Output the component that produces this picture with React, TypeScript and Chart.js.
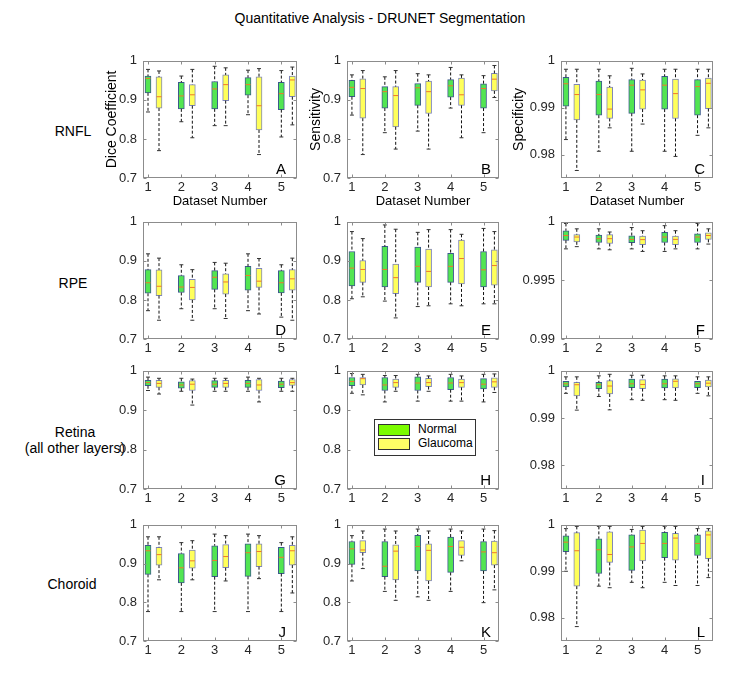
import React, { useEffect, useRef } from 'react';
import { Chart, registerables } from 'chart.js';

Chart.register(...registerables);

const FONT = "'Liberation Sans', Arial, Helvetica, sans-serif";

// ---------- categories and labels ----------
const datasetNumbers = [1, 2, 3, 4, 5];
const glaucomaOffset = 0.33;
const groupNames = ['Normal', 'Glaucoma'];
const layerNames = ['RNFL', 'RPE', 'Retina', 'Choroid'];
const metricNames = ['Dice Coefficient', 'Sensitivity', 'Specificity'];
const panelLetters = [
  ['A', 'B', 'C'],
  ['D', 'E', 'F'],
  ['G', 'H', 'I'],
  ['J', 'K', 'L'],
];
const xAxisTitle = 'Dataset Number';
const chartTitle = 'Quantitative Analysis - DRUNET Segmentation';

const ticksWide = [0.7, 0.8, 0.9, 1];
const ticksWideLabels = ['0.7', '0.8', '0.9', '1'];
const ticksSpec = [0.98, 0.99, 1];
const ticksSpecLabels = ['0.98', '0.99', '1'];
const ticksSpecRpe = [0.99, 0.995, 1];
const ticksSpecRpeLabels = ['0.99', '0.995', '1'];

// ---------- box statistics: [min, q1, median, q3, max] per dataset ----------
const rnflDiceNormal = [
  [0.869, 0.918, 0.955, 0.961, 0.978],
  [0.844, 0.877, 0.91, 0.945, 0.961],
  [0.834, 0.877, 0.928, 0.947, 0.986],
  [0.862, 0.912, 0.939, 0.957, 0.976],
  [0.805, 0.875, 0.916, 0.945, 0.975],
];
const rnflDiceGlaucoma = [
  [0.77, 0.879, 0.908, 0.959, 0.974],
  [0.803, 0.885, 0.913, 0.939, 0.978],
  [0.834, 0.898, 0.939, 0.964, 0.982],
  [0.76, 0.823, 0.885, 0.959, 0.98],
  [0.836, 0.908, 0.951, 0.961, 0.984],
];
const rnflSensNormal = [
  [0.861, 0.908, 0.932, 0.95, 0.964],
  [0.816, 0.879, 0.921, 0.934, 0.959],
  [0.82, 0.886, 0.931, 0.942, 0.967],
  [0.879, 0.907, 0.936, 0.952, 0.983],
  [0.816, 0.879, 0.929, 0.941, 0.962],
];
const rnflSensGlaucoma = [
  [0.76, 0.853, 0.929, 0.954, 0.975],
  [0.774, 0.831, 0.911, 0.934, 0.975],
  [0.774, 0.865, 0.921, 0.948, 0.964],
  [0.803, 0.886, 0.913, 0.956, 0.964],
  [0.906, 0.923, 0.953, 0.968, 0.988],
];
const rnflSpecNormal = [
  [0.9832, 0.9903, 0.9951, 0.9965, 0.9982],
  [0.9807, 0.9884, 0.9928, 0.9957, 0.9982],
  [0.9807, 0.9888, 0.9948, 0.996, 0.9984],
  [0.9807, 0.9897, 0.9948, 0.9967, 0.9982],
  [0.9841, 0.9884, 0.9945, 0.996, 0.9982],
];
const rnflSpecGlaucoma = [
  [0.9766, 0.9874, 0.9928, 0.995, 0.9982],
  [0.9857, 0.9877, 0.9897, 0.9944, 0.9968],
  [0.9865, 0.9897, 0.9938, 0.9959, 0.9972],
  [0.9796, 0.9877, 0.993, 0.9961, 0.9982],
  [0.9857, 0.9898, 0.9952, 0.9963, 0.9982],
];
const rpeDiceNormal = [
  [0.7725, 0.817, 0.844, 0.8775, 0.918],
  [0.7775, 0.819, 0.833, 0.8625, 0.89],
  [0.7775, 0.827, 0.858, 0.875, 0.896],
  [0.7725, 0.825, 0.8625, 0.886, 0.918],
  [0.756, 0.818, 0.844, 0.875, 0.89],
];
const rpeDiceGlaucoma = [
  [0.748, 0.811, 0.835, 0.877, 0.907],
  [0.748, 0.8, 0.832, 0.8525, 0.8775],
  [0.7525, 0.815, 0.846, 0.867, 0.894],
  [0.764, 0.832, 0.848, 0.881, 0.906],
  [0.748, 0.825, 0.854, 0.8775, 0.907],
];
const rpeSensNormal = [
  [0.803, 0.836, 0.8815, 0.924, 0.975],
  [0.797, 0.833, 0.878, 0.937, 0.992],
  [0.783, 0.845, 0.886, 0.935, 0.973],
  [0.79, 0.845, 0.886, 0.919, 0.98],
  [0.79, 0.833, 0.877, 0.924, 0.983],
];
const rpeSensGlaucoma = [
  [0.808, 0.845, 0.878, 0.901, 0.957],
  [0.754, 0.816, 0.857, 0.892, 0.981],
  [0.785, 0.833, 0.873, 0.93, 0.98],
  [0.785, 0.841, 0.906, 0.953, 0.968],
  [0.79, 0.838, 0.888, 0.928, 0.975],
];
const rpeSpecNormal = [
  [0.99769, 0.99842, 0.99883, 0.99924, 0.99986],
  [0.99769, 0.99823, 0.99856, 0.99886, 0.9994],
  [0.99769, 0.99821, 0.9985, 0.9988, 0.99951],
  [0.99747, 0.99823, 0.9987, 0.9991, 0.99967],
  [0.99769, 0.99823, 0.9987, 0.99897, 0.99986],
];
const rpeSpecGlaucoma = [
  [0.99788, 0.99829, 0.9987, 0.99891, 0.9994],
  [0.99761, 0.99815, 0.99856, 0.99891, 0.99913],
  [0.99747, 0.99804, 0.99848, 0.99878, 0.99924],
  [0.99769, 0.99804, 0.9985, 0.99878, 0.99924],
  [0.9981, 0.9985, 0.99883, 0.99905, 0.9994],
];
const retinaDiceNormal = [
  [0.95, 0.962, 0.97, 0.976, 0.984],
  [0.948, 0.956, 0.964, 0.972, 0.981],
  [0.948, 0.958, 0.966, 0.975, 0.981],
  [0.948, 0.958, 0.968, 0.976, 0.984],
  [0.948, 0.957, 0.966, 0.974, 0.981],
];
const retinaDiceGlaucoma = [
  [0.941, 0.958, 0.968, 0.976, 0.981],
  [0.913, 0.95, 0.966, 0.975, 0.979],
  [0.948, 0.958, 0.968, 0.976, 0.981],
  [0.921, 0.95, 0.964, 0.978, 0.981],
  [0.948, 0.963, 0.97, 0.978, 0.981],
];
const retinaSensNormal = [
  [0.943, 0.962, 0.973, 0.983, 0.993],
  [0.921, 0.95, 0.964, 0.983, 0.988],
  [0.923, 0.95, 0.969, 0.985, 0.991],
  [0.923, 0.952, 0.969, 0.983, 0.991],
  [0.921, 0.954, 0.966, 0.98, 0.991],
];
const retinaSensGlaucoma = [
  [0.939, 0.964, 0.98, 0.983, 0.991],
  [0.948, 0.958, 0.97, 0.979, 0.988],
  [0.948, 0.96, 0.97, 0.981, 0.987],
  [0.923, 0.958, 0.97, 0.979, 0.987],
  [0.945, 0.958, 0.972, 0.982, 0.992],
];
const retinaSpecNormal = [
  [0.99523, 0.99658, 0.99725, 0.99778, 0.99872],
  [0.99456, 0.99624, 0.99705, 0.99758, 0.99893],
  [0.99389, 0.99644, 0.99725, 0.99826, 0.99906],
  [0.99389, 0.99638, 0.99725, 0.99826, 0.99893],
  [0.99523, 0.99644, 0.99725, 0.99778, 0.99872],
];
const retinaSpecGlaucoma = [
  [0.99168, 0.9947, 0.99705, 0.99758, 0.99872],
  [0.99174, 0.9951, 0.99678, 0.99792, 0.99926],
  [0.99376, 0.99624, 0.99711, 0.99812, 0.99906],
  [0.99376, 0.99638, 0.99778, 0.99832, 0.99893],
  [0.9947, 0.99658, 0.99738, 0.99805, 0.99872],
];
const choroidDiceNormal = [
  [0.776, 0.872, 0.933, 0.947, 0.969],
  [0.776, 0.85, 0.889, 0.926, 0.954],
  [0.776, 0.866, 0.908, 0.946, 0.976],
  [0.776, 0.867, 0.928, 0.951, 0.976],
  [0.776, 0.874, 0.916, 0.942, 0.954],
];
const choroidDiceGlaucoma = [
  [0.858, 0.896, 0.923, 0.942, 0.969],
  [0.858, 0.888, 0.907, 0.935, 0.959],
  [0.855, 0.889, 0.918, 0.949, 0.972],
  [0.861, 0.892, 0.931, 0.951, 0.972],
  [0.824, 0.896, 0.933, 0.947, 0.969],
];
const choroidSensNormal = [
  [0.855, 0.898, 0.938, 0.957, 0.972],
  [0.828, 0.866, 0.893, 0.957, 0.989],
  [0.814, 0.881, 0.944, 0.973, 0.989],
  [0.828, 0.877, 0.944, 0.968, 0.989],
  [0.799, 0.881, 0.93, 0.957, 0.989],
];
const choroidSensGlaucoma = [
  [0.887, 0.928, 0.935, 0.959, 0.984],
  [0.805, 0.858, 0.932, 0.948, 0.984],
  [0.805, 0.855, 0.934, 0.951, 0.984],
  [0.907, 0.921, 0.942, 0.959, 0.984],
  [0.832, 0.896, 0.928, 0.958, 0.985],
];
const choroidSpecNormal = [
  [0.99, 0.99422, 0.99626, 0.99762, 0.99918],
  [0.9868, 0.98952, 0.99463, 0.997, 0.99966],
  [0.98762, 0.9902, 0.99524, 0.99782, 0.999],
  [0.98762, 0.99293, 0.99599, 0.99837, 0.99966],
  [0.98694, 0.9934, 0.99599, 0.99782, 0.99918],
];
const choroidSpecGlaucoma = [
  [0.9781, 0.9868, 0.99442, 0.9983, 0.99966],
  [0.98646, 0.9919, 0.99361, 0.9985, 0.99966],
  [0.98646, 0.99224, 0.99599, 0.99884, 0.99966],
  [0.98694, 0.99238, 0.99714, 0.99816, 0.99966],
  [0.98864, 0.99272, 0.99782, 0.99871, 0.99918],
];

// ---------- styles ----------
const normalFill = '#52e552';
const normalEdge = '#3c5a8c';
const glaucomaFill = '#ffff5a';
const glaucomaEdge = '#7f86b8';
const medianColor = '#f0782a';
const whiskerColor = '#111111';
const capColor = '#333333';
const frameColor = '#8c8c8c';
const tickColor = '#262626';
const legendNormal = '#7cfc00';
const legendGlaucoma = '#ffff66';

// ---------- geometry ----------
const colFrames = [
  { l: 143, r: 297, yW: 39, letterDx: 11 },
  { l: 347, r: 499, yW: 39, letterDx: 8 },
  { l: 561, r: 713, yW: 50, letterDx: 8 },
];
const rowFrames = [
  { t: 57, b: 178 },
  { t: 218, b: 339 },
  { t: 367, b: 489 },
  { t: 521, b: 641 },
];
const PAD_T = 10;
const PAD_R = 6;

type Panel = {
  row: number;
  col: number;
  normal: number[][];
  glaucoma: number[][];
  yMin: number;
  yMax: number;
  yTicks: number[];
  yTickLabels: string[];
};

const wide = { yMin: 0.7, yMax: 1, yTicks: ticksWide, yTickLabels: ticksWideLabels };
const spec = { yMin: 0.975, yMax: 1, yTicks: ticksSpec, yTickLabels: ticksSpecLabels };
const specRpe = { yMin: 0.99, yMax: 1, yTicks: ticksSpecRpe, yTickLabels: ticksSpecRpeLabels };

const panels: Panel[] = [
  { row: 0, col: 0, normal: rnflDiceNormal, glaucoma: rnflDiceGlaucoma, ...wide },
  { row: 0, col: 1, normal: rnflSensNormal, glaucoma: rnflSensGlaucoma, ...wide },
  { row: 0, col: 2, normal: rnflSpecNormal, glaucoma: rnflSpecGlaucoma, ...spec },
  { row: 1, col: 0, normal: rpeDiceNormal, glaucoma: rpeDiceGlaucoma, ...wide },
  { row: 1, col: 1, normal: rpeSensNormal, glaucoma: rpeSensGlaucoma, ...wide },
  { row: 1, col: 2, normal: rpeSpecNormal, glaucoma: rpeSpecGlaucoma, ...specRpe },
  { row: 2, col: 0, normal: retinaDiceNormal, glaucoma: retinaDiceGlaucoma, ...wide },
  { row: 2, col: 1, normal: retinaSensNormal, glaucoma: retinaSensGlaucoma, ...wide },
  { row: 2, col: 2, normal: retinaSpecNormal, glaucoma: retinaSpecGlaucoma, ...spec },
  { row: 3, col: 0, normal: choroidDiceNormal, glaucoma: choroidDiceGlaucoma, ...wide },
  { row: 3, col: 1, normal: choroidSensNormal, glaucoma: choroidSensGlaucoma, ...wide },
  { row: 3, col: 2, normal: choroidSpecNormal, glaucoma: choroidSpecGlaucoma, ...spec },
];

// ---------- dataset builders ----------
const boxData = (stats: number[][], off: number) =>
  stats.map((s, i) => ({ x: datasetNumbers[i] + off, y: [s[1], s[3]] }));

const whiskerData = (stats: number[][], off: number) =>
  stats.flatMap((s, i) => {
    const x = datasetNumbers[i] + off;
    return [
      { x, y: s[4] },
      { x, y: s[3] },
      { x, y: null },
      { x, y: s[1] },
      { x, y: s[0] },
      { x, y: null },
    ];
  });

const capData = (stats: number[][], off: number, hw: number) =>
  stats.flatMap((s, i) => {
    const x = datasetNumbers[i] + off;
    return [
      { x: x - hw, y: s[4] },
      { x: x + hw, y: s[4] },
      { x, y: null },
      { x: x - hw, y: s[0] },
      { x: x + hw, y: s[0] },
      { x, y: null },
    ];
  });

const medianData = (stats: number[][], off: number, hw: number) =>
  stats.flatMap((s, i) => {
    const x = datasetNumbers[i] + off;
    return [
      { x: x - hw, y: s[2] },
      { x: x + hw, y: s[2] },
      { x, y: null },
    ];
  });

const panelDecor = {
  id: 'panelDecor',
  afterDatasetsDraw(chart: any, _args: any, opts: any) {
    const { ctx, chartArea: a } = chart;
    const xs = chart.scales.x;
    const ys = chart.scales.y;
    ctx.save();
    ctx.strokeStyle = frameColor;
    ctx.lineWidth = 1;
    const L = Math.round(a.left) + 0.5;
    const R = Math.round(a.right) - 0.5;
    const T = Math.round(a.top) + 0.5;
    const B = Math.round(a.bottom) - 0.5;
    ctx.strokeRect(L, T, R - L, B - T);
    ctx.beginPath();
    xs.ticks.forEach((t: any) => {
      const px = Math.round(xs.getPixelForValue(t.value)) + 0.5;
      ctx.moveTo(px, B);
      ctx.lineTo(px, B - 3);
      ctx.moveTo(px, T);
      ctx.lineTo(px, T + 3);
    });
    ys.ticks.forEach((t: any) => {
      const py = Math.round(ys.getPixelForValue(t.value)) + 0.5;
      ctx.moveTo(L, py);
      ctx.lineTo(L + 3, py);
      ctx.moveTo(R, py);
      ctx.lineTo(R - 3, py);
    });
    ctx.stroke();
    ctx.fillStyle = '#000';
    ctx.font = `15px ${FONT}`;
    ctx.textAlign = 'right';
    ctx.textBaseline = 'alphabetic';
    ctx.fillText(opts.letter, a.right - opts.letterDx, a.bottom - 4);
    ctx.restore();
  },
};

function BoxPanel({ p }: { p: Panel }) {
  const ref = useRef<HTMLCanvasElement>(null);
  const col = colFrames[p.col];
  const row = rowFrames[p.row];
  const xH = p.row === 0 ? 31 : 20;
  const width = col.yW + (col.r - col.l) + PAD_R;
  const height = PAD_T + (row.b - row.t) + xH;
  const left = col.l - col.yW;
  const top = row.t - PAD_T;

  useEffect(() => {
    const canvas = ref.current;
    if (!canvas) return;
    const boxW = 6;
    const capHW = 0.06;
    const medHW = 0.075;
    const chart = new Chart(canvas, {
      type: 'bar',
      data: {
        datasets: [
          {
            type: 'line',
            label: 'median-n',
            data: medianData(p.normal, 0, medHW),
            borderColor: medianColor,
            borderWidth: 1,
            pointRadius: 0,
            order: 0,
          },
          {
            type: 'line',
            label: 'median-g',
            data: medianData(p.glaucoma, glaucomaOffset, medHW),
            borderColor: medianColor,
            borderWidth: 1,
            pointRadius: 0,
            order: 0,
          },
          {
            type: 'line',
            label: 'caps',
            data: [...capData(p.normal, 0, capHW), ...capData(p.glaucoma, glaucomaOffset, capHW)],
            borderColor: capColor,
            borderWidth: 1,
            pointRadius: 0,
            order: 1,
          },
          {
            type: 'line',
            label: 'whiskers',
            data: [...whiskerData(p.normal, 0), ...whiskerData(p.glaucoma, glaucomaOffset)],
            borderColor: whiskerColor,
            borderWidth: 1,
            borderDash: [3, 2],
            pointRadius: 0,
            order: 2,
          },
          {
            type: 'bar',
            label: groupNames[0],
            data: boxData(p.normal, 0),
            backgroundColor: normalFill,
            borderColor: normalEdge,
            borderWidth: 1,
            borderSkipped: false,
            barThickness: boxW,
            grouped: false,
            order: 3,
          },
          {
            type: 'bar',
            label: groupNames[1],
            data: boxData(p.glaucoma, glaucomaOffset),
            backgroundColor: glaucomaFill,
            borderColor: glaucomaEdge,
            borderWidth: 1,
            borderSkipped: false,
            barThickness: boxW,
            grouped: false,
            order: 3,
          },
        ] as any,
      },
      options: {
        responsive: false,
        maintainAspectRatio: false,
        animation: false,
        events: [],
        layout: { padding: { top: PAD_T, right: PAD_R, left: 0, bottom: 0 } },
        scales: {
          x: {
            type: 'linear',
            min: 0.85,
            max: 5.47,
            offset: false,
            bounds: 'data',
            grid: { display: false, drawTicks: false },
            border: { display: false },
            afterBuildTicks: (s: any) => {
              s.ticks = datasetNumbers.map((v) => ({ value: v }));
            },
            afterFit: (s: any) => {
              s.height = xH;
            },
            ticks: {
              autoSkip: false,
              maxRotation: 0,
              padding: 2,
              color: tickColor,
              font: { family: FONT, size: 13 },
              callback: (_v: any, i: number) => String(datasetNumbers[i]),
            },
            title: {
              display: p.row === 0,
              text: xAxisTitle,
              color: '#000',
              padding: 0,
              font: { family: FONT, size: 13 },
            },
          },
          y: {
            type: 'linear',
            min: p.yMin,
            max: p.yMax,
            bounds: 'data',
            grid: { display: false, drawTicks: false },
            border: { display: false },
            afterBuildTicks: (s: any) => {
              s.ticks = p.yTicks.map((v) => ({ value: v }));
            },
            afterFit: (s: any) => {
              s.width = col.yW;
            },
            ticks: {
              padding: 6,
              color: tickColor,
              font: { family: FONT, size: 13 },
              callback: (_v: any, i: number) => p.yTickLabels[i],
            },
            title: {
              display: p.row === 0,
              text: metricNames[p.col],
              color: '#000',
              padding: 0,
              font: { family: FONT, size: 14 },
            },
          },
        },
        plugins: {
          legend: { display: false },
          tooltip: { enabled: false },
          panelDecor: { letter: panelLetters[p.row][p.col], letterDx: col.letterDx },
        } as any,
      },
      plugins: [panelDecor],
    } as any);
    return () => chart.destroy();
  }, []);

  return (
    <canvas
      ref={ref}
      width={width}
      height={height}
      style={{ position: 'absolute', left, top, width, height }}
    />
  );
}

const rowLabelPos = [
  { x: 73, y: 131 },
  { x: 73, y: 283 },
  { x: 75, y: 440 },
  { x: 72, y: 584 },
];

export default function App() {
  return (
    <div
      style={{
        position: 'absolute',
        left: 0,
        top: 0,
        width: 754,
        height: 674,
        background: '#fff',
        fontFamily: FONT,
        overflow: 'hidden',
      }}
    >
      <div
        style={{
          position: 'absolute',
          left: 380,
          top: 18,
          transform: 'translate(-50%, -50%)',
          whiteSpace: 'nowrap',
          fontSize: 14,
          color: '#000',
        }}
      >
        {chartTitle}
      </div>
      {layerNames.map((name, i) => (
        <div
          key={name}
          style={{
            position: 'absolute',
            left: rowLabelPos[i].x,
            top: rowLabelPos[i].y,
            transform: 'translate(-50%, -50%)',
            whiteSpace: 'nowrap',
            fontSize: 14,
            textAlign: 'center',
            lineHeight: '16px',
            color: '#000',
          }}
        >
          {name}
          {name === 'Retina' ? (
            <>
              <br />
              (all other layers)
            </>
          ) : null}
        </div>
      ))}
      {panels.map((p) => (
        <BoxPanel key={`${p.row}-${p.col}`} p={p} />
      ))}
      <div
        style={{
          position: 'absolute',
          left: 374,
          top: 419,
          width: 100,
          height: 35,
          border: '1px solid #333',
          background: '#fff',
          fontSize: 12,
          color: '#000',
        }}
      >
        {groupNames.map((g, i) => (
          <div key={g} style={{ position: 'absolute', left: 3, top: 3 + i * 14, height: 13, display: 'flex', alignItems: 'center' }}>
            <div
              style={{
                width: 32,
                height: 12,
                boxSizing: 'border-box',
                border: '1px solid #333',
                background: i === 0 ? legendNormal : legendGlaucoma,
              }}
            />
            <span style={{ marginLeft: 8, whiteSpace: 'nowrap', lineHeight: '13px' }}>{g}</span>
          </div>
        ))}
      </div>
    </div>
  );
}
